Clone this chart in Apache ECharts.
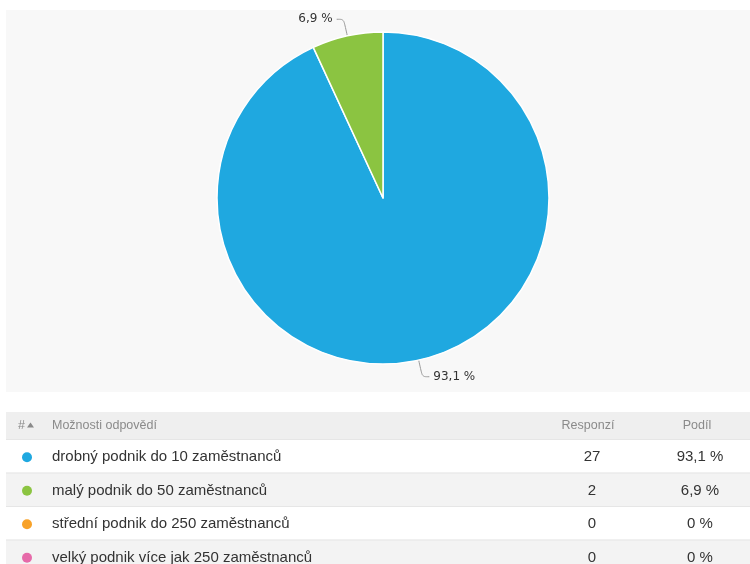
<!DOCTYPE html>
<html>
<head>
<meta charset="utf-8">
<script src="https://cdn.jsdelivr.net/npm/echarts@6/dist/echarts.min.js"></script>
<style>
  html, body { margin: 0; padding: 0; background: #ffffff; }
  #chart { width: 750px; height: 564px; }
</style>
</head>
<body>
<div id="chart"></div>
<script>
// Answer options, response counts and colours
const categories = [
  'drobný podnik do 10 zaměstnanců',
  'malý podnik do 50 zaměstnanců',
  'střední podnik do 250 zaměstnanců',
  'velký podnik více jak 250 zaměstnanců'
];
const responses = [27, 2, 0, 0];
const colors = ['#1fa8e0', '#8bc441', '#f8a229', '#e66aa9'];
const headers = ['#', 'Možnosti odpovědí', 'Responzí', 'Podíl'];

const total = responses.reduce((a, b) => a + b, 0);
function pctText(v) {
  const p = Math.round(v / total * 1000) / 10;
  return String(p).replace('.', ',') + ' %';
}

const font = '"Liberation Sans", Arial, Helvetica, sans-serif';

// Pie data (zero answers are left out of the pie)
const pieData = categories
  .map((name, i) => ({ name, value: responses[i], itemStyle: { color: colors[i] } }))
  .filter(d => d.value > 0);

// Table below the pie
const tableLeft = 6, tableRight = 750;
const headerTop = 412, headerH = 27, rowH = 33.5;
const colText = 52, colResp = 592, colShare = 700;
const graphic = [];

// chart panel background
graphic.push({ type: 'rect', z: -10, shape: { x: 6, y: 10, width: 744, height: 382 }, style: { fill: '#f8f8f8' } });

// header
graphic.push({ type: 'rect', shape: { x: tableLeft, y: headerTop, width: tableRight - tableLeft, height: headerH }, style: { fill: '#efefef' } });
const hy = headerTop + headerH / 2;
const hStyle = { fill: '#8a8a8a', font: '12.5px ' + font, textVerticalAlign: 'middle' };
graphic.push({ type: 'text', style: Object.assign({ text: headers[0], x: 18, y: hy, textAlign: 'left' }, hStyle) });
graphic.push({ type: 'polygon', shape: { points: [[27, hy + 2], [34, hy + 2], [30.5, hy - 3]] }, style: { fill: '#8a8a8a' } });
graphic.push({ type: 'text', style: Object.assign({ text: headers[1], x: colText, y: hy, textAlign: 'left' }, hStyle) });
graphic.push({ type: 'text', style: Object.assign({ text: headers[2], x: 588, y: hy, textAlign: 'center' }, hStyle) });
graphic.push({ type: 'text', style: Object.assign({ text: headers[3], x: 697, y: hy, textAlign: 'center' }, hStyle) });

categories.forEach((name, i) => {
  const top = headerTop + headerH + i * rowH;
  const cy = top + rowH / 2 + 1.5;
  graphic.push({ type: 'rect', shape: { x: tableLeft, y: top, width: tableRight - tableLeft, height: rowH }, style: { fill: i % 2 === 0 ? '#ffffff' : '#f3f3f3' } });
  graphic.push({ type: 'line', shape: { x1: tableLeft, y1: top + 0.5, x2: tableRight, y2: top + 0.5 }, style: { stroke: '#e6e6e6', lineWidth: 1 } });
  graphic.push({ type: 'circle', shape: { cx: 27, cy: cy, r: 5 }, style: { fill: colors[i] } });
  const tStyle = { fill: '#333333', font: '15px ' + font, textVerticalAlign: 'middle' };
  graphic.push({ type: 'text', style: Object.assign({ text: name, x: colText, y: cy, textAlign: 'left' }, tStyle) });
  graphic.push({ type: 'text', style: Object.assign({ text: String(responses[i]), x: colResp, y: cy, textAlign: 'center', fill: '#555555' }, tStyle) });
  graphic.push({ type: 'text', style: Object.assign({ text: pctText(responses[i]), x: colShare, y: cy, textAlign: 'center', fill: '#555555' }, tStyle) });
});

const chart = echarts.init(document.getElementById('chart'));
chart.setOption({
  backgroundColor: '#ffffff',
  animation: false,
  graphic: graphic,
  series: [{
    type: 'pie',
    center: [383, 198],
    radius: 166,
    startAngle: 90,
    clockwise: true,
    avoidLabelOverlap: false,
    itemStyle: { borderColor: '#ffffff', borderWidth: 1.5 },
    label: {
      show: true,
      formatter: p => pctText(p.value),
      color: '#333333',
      fontSize: 12,
      fontFamily: '"DejaVu Sans", sans-serif',
      distanceToLabelLine: 4
    },
    labelLine: {
      show: true,
      length: 17,
      length2: 7,
      smooth: 0.3,
      lineStyle: { color: '#9a9a9a', width: 1 }
    },
    emphasis: { disabled: true },
    data: pieData
  }]
});
</script>
</body>
</html>
